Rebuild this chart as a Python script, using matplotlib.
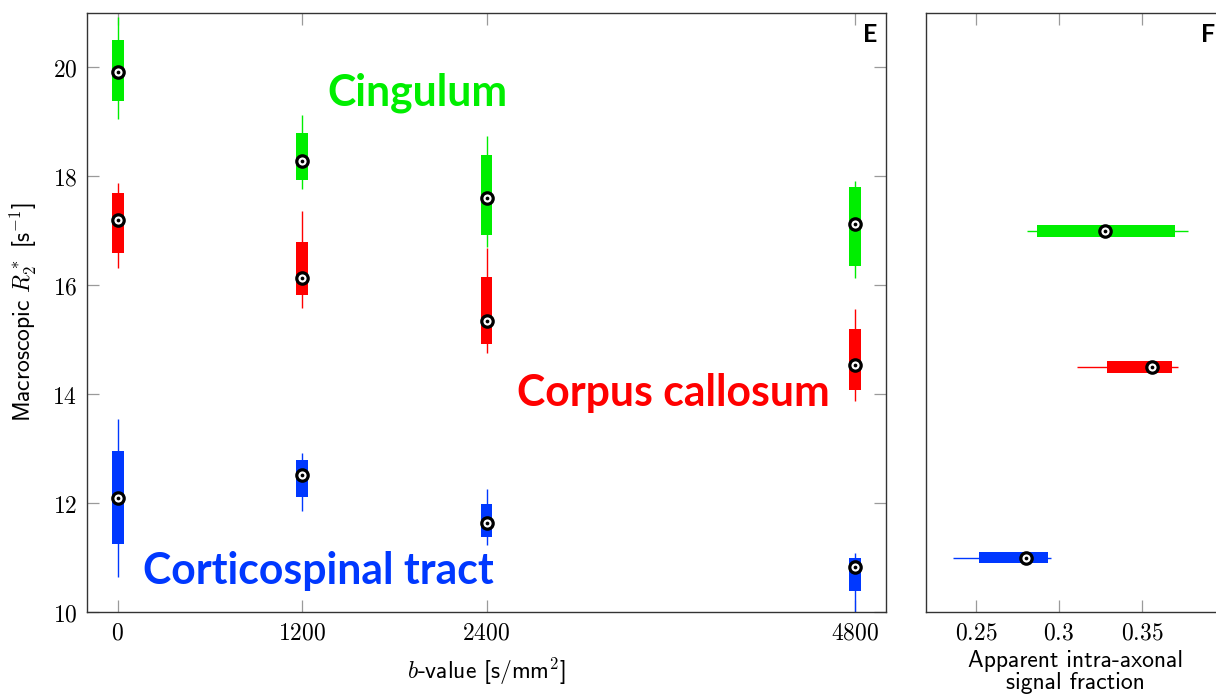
import matplotlib
matplotlib.use("Agg")
import matplotlib.pyplot as plt
import numpy as np

plt.rcParams["mathtext.fontset"] = "cm"

# ---- data: macroscopic R2* vs b-value (panel E) ----
b_values = [0, 1200, 2400, 4800]
tracts = ["Cingulum", "Corpus callosum", "Corticospinal tract"]
colors = {"Cingulum": "#00ee00", "Corpus callosum": "#ff0000",
          "Corticospinal tract": "#0038ff"}

# per tract: whisker low, q1, median, q3, whisker high at each b-value
cing_lo = [19.05, 17.77, 16.71, 16.13]
cing_q1 = [19.38, 17.93, 16.92, 16.36]
cing_med = [19.92, 18.29, 17.60, 17.13]
cing_q3 = [20.51, 18.80, 18.40, 17.80]
cing_hi = [20.92, 19.12, 18.75, 17.92]

cc_lo = [16.31, 15.59, 14.76, 13.87]
cc_q1 = [16.59, 15.82, 14.92, 14.07]
cc_med = [17.19, 16.14, 15.35, 14.53]
cc_q3 = [17.70, 16.80, 16.15, 15.19]
cc_hi = [17.88, 17.37, 16.69, 15.57]

cst_lo = [10.64, 11.85, 11.23, 9.90]
cst_q1 = [11.24, 12.12, 11.38, 10.39]
cst_med = [12.10, 12.52, 11.63, 10.83]
cst_q3 = [12.95, 12.79, 11.99, 11.00]
cst_hi = [13.54, 12.92, 12.26, 11.09]

r2_stats = {
    "Cingulum": (cing_lo, cing_q1, cing_med, cing_q3, cing_hi),
    "Corpus callosum": (cc_lo, cc_q1, cc_med, cc_q3, cc_hi),
    "Corticospinal tract": (cst_lo, cst_q1, cst_med, cst_q3, cst_hi),
}

# ---- data: apparent intra-axonal signal fraction (panel F) ----
fraction_pos = [17.0, 14.5, 11.0]
frac_lo = [0.281, 0.311, 0.236]
frac_q1 = [0.287, 0.329, 0.252]
frac_med = [0.3275, 0.356, 0.280]
frac_q3 = [0.370, 0.368, 0.2935]
frac_hi = [0.378, 0.3716, 0.2955]

y_ticks = [10, 12, 14, 16, 18, 20]
frac_ticks = [0.25, 0.3, 0.35]

TICK_COLOR = "#9a9a9a"
SPINE_COLOR = "#333333"
SANS = "cmss10"
BOLD = "Lato"
BIG = 30.8

fig = plt.figure(figsize=(12.16, 6.97), dpi=100)
ax1 = fig.add_axes([87 / 1216, 85 / 697, 799 / 1216, 599 / 697])
ax2 = fig.add_axes([926 / 1216, 85 / 697, 299 / 1216, 599 / 697], sharey=ax1)


def median_marker(ax, x, y):
    ax.plot(x, y, "o", ms=8.2, mfc="white", mec="black", mew=2.3, zorder=5)
    ax.plot(x, y, "o", ms=2.7, color="black", mew=0, zorder=6)


# panel E: vertical boxes
box_w = 76
for name in tracts:
    lo, q1, med, q3, hi = r2_stats[name]
    c = colors[name]
    ax1.vlines(b_values, lo, hi, color=c, lw=1.0, zorder=2)
    ax1.bar(b_values, np.subtract(q3, q1), bottom=q1, width=box_w,
            color=c, linewidth=0, zorder=3)
    median_marker(ax1, b_values, med)

ax1.set_xlim(-200, 5000)
ax1.set_ylim(10, 21)
ax1.set_xticks(b_values, [f"${v}$" for v in b_values])
ax1.set_yticks(y_ticks, [f"${v}$" for v in y_ticks])
ax1.tick_params(direction="in", length=8.6, width=0.9, color=TICK_COLOR,
                top=True, right=True, labelsize=17)
ax1.tick_params(axis="x", pad=6)
ax1.tick_params(axis="y", pad=7)
ax1.set_xlabel(r"$b$-value [s/mm$^\mathsf{2}$]", fontfamily=SANS,
               fontsize=17, labelpad=8)
ax1.set_ylabel(r"Macroscopic $R_2^*$ [s$^{\mathsf{-1}}$]", fontfamily=SANS,
               fontsize=17, labelpad=10)

ax1.text(1366, 19.54, "Cingulum", color=colors["Cingulum"], fontsize=BIG,
         fontfamily=BOLD, fontweight="bold", ha="left", va="center")
ax1.text(4631, 14.03, "Corpus callosum", color=colors["Corpus callosum"],
         fontsize=BIG, fontfamily=BOLD, fontweight="bold",
         ha="right", va="center")
ax1.text(163, 10.75, "Corticospinal tract",
         color=colors["Corticospinal tract"], fontsize=BIG,
         fontfamily=BOLD, fontweight="bold", ha="left", va="center")
ax1.text(0.989, 0.983, "E", transform=ax1.transAxes, fontsize=18,
         fontfamily=BOLD, fontweight="bold", ha="right", va="top")

# panel F: horizontal boxes
box_h = 0.21
for i, name in enumerate(tracts):
    c = colors[name]
    y = fraction_pos[i]
    ax2.hlines(y, frac_lo[i], frac_hi[i], color=c, lw=1.0, zorder=2)
    ax2.barh(y, frac_q3[i] - frac_q1[i], left=frac_q1[i], height=box_h,
             color=c, linewidth=0, zorder=3)
    median_marker(ax2, frac_med[i], y)

ax2.set_xlim(0.22, 0.40)
ax2.set_xticks(frac_ticks, [f"${v:g}$" for v in frac_ticks])
ax2.tick_params(axis="x", direction="in", length=8.6, width=0.9,
                color=TICK_COLOR, top=True, labelsize=17, pad=6)
ax2.tick_params(axis="y", left=False, right=False, labelleft=False)
ax2.set_xlabel("Apparent intra-axonal\nsignal fraction", fontfamily=SANS,
               fontsize=17, labelpad=4, linespacing=1.0)
ax2.text(0.967, 0.983, "F", transform=ax2.transAxes, fontsize=18,
         fontfamily=BOLD, fontweight="bold", ha="right", va="top")

for ax in (ax1, ax2):
    for s in ax.spines.values():
        s.set_color(SPINE_COLOR)
        s.set_linewidth(1.0)

fig.savefig("out.png", dpi=100)
